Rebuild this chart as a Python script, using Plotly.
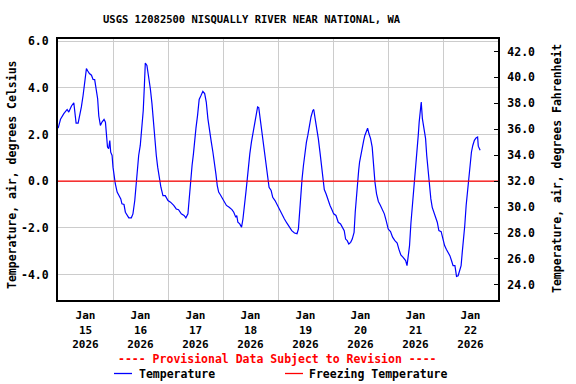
import plotly.graph_objects as go
import pandas as pd

title = "USGS 12082500 NISQUALLY RIVER NEAR NATIONAL, WA"
start = "2026-01-15 00:00"
end = "2026-01-23 00:00"

# hours since Jan 15 00:00 and air temperature (deg C)
hours = [0.07, 1.09, 2.54, 3.99, 4.7, 5.88, 6.9, 7.62, 7.9, 8.79, 9.4, 10.2, 10.96, 11.7, 12.4, 13.0,
         13.7, 14.6, 15.3, 16.0, 16.6, 17.3, 17.8, 18.5, 19.2, 20.1, 20.7, 21.1, 21.6, 22.1, 22.6, 23.0,
         23.6, 24.0, 24.5, 25.0, 25.8, 26.5, 27.4, 27.9, 28.8, 29.4, 30.1, 30.9, 32.0, 32.7, 33.5, 34.1,
         34.6, 35.2, 35.9, 36.7, 37.2, 37.7, 38.1,
         38.8, 39.6, 40.3, 41.0, 41.7, 42.2, 42.9, 43.5, 44.2, 44.9, 45.8, 46.8, 48.0, 49.1, 50.5, 51.6,
         52.6, 53.8, 55.0, 55.8, 56.7, 57.3, 57.9, 58.5, 59.1, 59.6, 60.2, 60.9, 61.6, 62.4, 63.2, 64.0,
         64.7, 65.4, 66.1, 66.9, 67.6, 68.3, 68.9, 69.5, 70.1, 70.9, 71.8, 72.7, 73.5, 74.7, 75.9, 76.7, 77.6,
         78.0, 78.5, 79.3, 80.1, 80.7, 81.4, 82.0, 82.6, 83.1, 83.7, 84.4, 85.2, 85.9, 86.5, 87.1, 87.6,
         88.2, 88.9, 89.5, 90.2, 90.8, 91.5, 92.1, 93.0, 93.7, 94.7, 95.7, 96.6, 97.7, 98.8, 99.9, 101.0,
         102.0, 103.2, 104.3, 104.9, 105.3, 105.9, 106.5, 107.1, 107.7, 108.4, 109.0, 109.7, 110.4, 111.2,
         111.6, 112.2, 112.9, 113.6, 114.4, 115.1, 115.7, 116.2,
         117.0, 118.0, 118.7, 119.4, 120.3, 121.3, 122.3, 123.3, 124.2, 124.9, 125.5, 126.2, 126.9, 127.7,
         128.4, 129.2, 129.7, 130.3, 130.7, 131.2, 131.6, 132.2, 132.8, 133.4, 133.9, 134.5, 135.1, 135.7,
         136.4, 137.1, 137.7, 138.3, 139.0, 139.8, 140.6, 141.5, 142.4, 143.2, 144.1, 145.1, 146.0, 147.0,
         148.0, 148.8, 149.6, 150.6, 151.7, 152.3, 152.8, 153.4,
         154.0, 154.7, 155.3, 155.7, 156.2, 156.7, 157.2, 157.6, 158.0, 158.5, 159.0, 159.8, 160.4, 160.9,
         161.5, 162.1, 162.7, 163.3, 164.0, 164.7, 165.5, 166.2, 167.2, 168.0, 168.7, 169.5, 170.3, 171.0,
         171.7, 172.4, 173.2, 173.9, 174.6, 175.4, 175.9, 176.4, 177.0, 177.5, 178.1, 178.7, 179.3, 179.9,
         180.4, 181.0, 181.7, 182.4, 183.1, 183.4, 184.2]
temp_c = [2.27, 2.65, 2.89, 3.07, 2.96, 3.22, 3.36, 2.82, 2.49, 2.49, 2.75, 3.18, 3.68, 4.39, 4.82, 4.72,
          4.61, 4.54, 4.36, 4.35, 3.89, 3.53, 2.79, 2.39, 2.53, 2.65, 2.53, 2.03, 1.46, 1.39, 1.74, 1.24,
          1.10, 0.60, 0.17, -0.11, -0.47, -0.62, -0.76, -0.97, -1.0, -1.33, -1.44, -1.57, -1.57, -1.40, -0.83, -0.04,
          0.70, 1.10, 1.53, 2.46, 3.03, 4.11, 5.06,
          4.96, 4.46, 3.96, 3.32, 2.39, 1.67, 1.10, 0.60, 0.10, -0.26, -0.62, -0.62, -0.83, -0.90, -1.04, -1.19,
          -1.22, -1.40, -1.47, -1.57, -1.40, -0.62, -0.04, 0.67, 1.17, 1.75, 2.27, 2.82, 3.50, 3.67, 3.85, 3.75,
          3.39, 2.68, 2.10, 1.67, 1.24, 0.82, 0.31, -0.19, -0.47, -0.59, -0.76, -0.90, -1.04, -1.12, -1.22, -1.33, -1.55,
          -1.47, -1.76, -1.83, -1.97, -1.62, -1.12, -0.47, 0.10, 0.74, 1.17, 1.67, 2.10, 2.46, 2.82, 3.18, 3.15,
          2.68, 2.25, 1.82, 1.17, 0.60, 0.24, -0.26, -0.40, -0.69, -0.83, -1.04, -1.19, -1.40, -1.62, -1.80, -1.97,
          -2.12, -2.22, -2.25, -2.05, -1.40, -0.62, 0.10, 0.67, 1.24, 1.67, 1.96, 2.39, 2.75, 3.03,
          3.07, 2.68, 2.32, 1.82, 1.17, 0.60, 0.03, -0.36,
          -0.55, -0.90, -1.04, -1.19, -1.40, -1.47, -1.76, -1.83, -2.02, -2.12, -2.48, -2.55, -2.69, -2.62,
          -2.48, -2.19, -1.33, -0.54, 0.10, 0.46, 0.82, 1.17, 1.53, 1.75, 1.96, 2.17, 2.27, 2.03,
          1.82, 1.46, 0.67, -0.04, -0.54, -0.87, -1.02, -1.19, -1.40, -1.69, -2.05, -2.16, -2.40, -2.55,
          -2.65, -2.93, -3.16, -3.26, -3.40, -3.62, -3.26, -2.76,
          -1.80, -1.04, -0.45, 0.24, 0.82, 1.10, 1.96, 2.53, 3.10, 3.39, 2.68, 2.25, 1.82, 1.10,
          0.39, -0.19, -0.76, -1.12, -1.33, -1.55, -1.76, -2.12, -2.16, -2.48, -2.76, -2.93, -3.05, -3.19,
          -3.40, -3.62, -3.62, -4.08, -4.05, -3.76, -3.62, -3.05, -2.48, -1.90, -1.04, -0.47, 0.24, 0.82,
          1.24, 1.53, 1.75, 1.85, 1.89, 1.50, 1.32]
freezing_c = 0.0

day_labels = ["Jan<br>15<br>2026", "Jan<br>16<br>2026", "Jan<br>17<br>2026", "Jan<br>18<br>2026",
              "Jan<br>19<br>2026", "Jan<br>20<br>2026", "Jan<br>21<br>2026", "Jan<br>22<br>2026"]
c_ticks = [-4, -2, 0, 2, 4, 6]
c_ticktext = ["-4.0", "-2.0", "0.0", "2.0", "4.0", "6.0"]
f_ticks = [24, 26, 28, 30, 32, 34, 36, 38, 40, 42]
f_ticktext = ["24.0", "26.0", "28.0", "30.0", "32.0", "34.0", "36.0", "38.0", "40.0", "42.0"]
c_range = [-5.09, 6.09]

FONT = "DejaVu Sans Mono"
t0 = pd.Timestamp(start)
times = [t0 + pd.Timedelta(hours=h) for h in hours]
noons = [t0 + pd.Timedelta(hours=12 + 24 * i) for i in range(len(day_labels))]
midnights = [t0 + pd.Timedelta(days=i) for i in range(1, len(day_labels))]
temp_f = [c * 9 / 5 + 32 for c in temp_c]

fig = go.Figure()
fig.add_trace(go.Scatter(x=times, y=temp_c, mode="lines", name="Temperature",
                         line=dict(color="#0000ff", width=1.2), showlegend=False))
fig.add_trace(go.Scatter(x=[pd.Timestamp(start), pd.Timestamp(end)], y=[freezing_c, freezing_c],
                         mode="lines", name="Freezing Temperature",
                         line=dict(color="#ff0000", width=1.2), showlegend=False))
fig.add_trace(go.Scatter(x=times, y=temp_f, mode="lines", yaxis="y2", opacity=0,
                         line=dict(width=0), hoverinfo="skip", showlegend=False))

grid = "#cccccc"
fig.update_layout(
    width=576, height=384,
    margin=dict(l=58, r=78, t=39, b=84, autoexpand=False),
    paper_bgcolor="white", plot_bgcolor="white",
    font=dict(family=FONT, size=11.5, color="black", weight="bold"),
    showlegend=False,
    xaxis=dict(type="date", range=[pd.Timestamp(start), pd.Timestamp(end)],
               tickmode="array", tickvals=noons, ticktext=day_labels, ticks="",
               tickfont=dict(size=11), showgrid=False, zeroline=False, ticklabelstandoff=4,
               minor=dict(tickmode="array", tickvals=midnights, showgrid=True,
                          gridcolor=grid, gridwidth=1, ticks=""),
               showline=True, linecolor="black", linewidth=2, mirror=True),
    yaxis=dict(range=c_range, tickmode="array", tickvals=c_ticks, ticktext=c_ticktext,
               showgrid=True, gridcolor=grid, gridwidth=1, zeroline=False, ticks="",
               ticklabelstandoff=5,
               showline=True, linecolor="black", linewidth=2, mirror=True),
    yaxis2=dict(overlaying="y", side="right",
                range=[c_range[0] * 9 / 5 + 32, c_range[1] * 9 / 5 + 32],
                tickmode="array", tickvals=f_ticks, ticktext=f_ticktext,
                ticks="inside", ticklen=4, tickcolor="black", tickwidth=1,
                showgrid=False, zeroline=False, ticklabelstandoff=5,
                showline=True, linecolor="black", linewidth=2),
)

# Title
fig.add_annotation(text=title, xref="paper", yref="paper", x=(252 - 58) / 440, y=1 + 20 / 261,
                   xanchor="center", yanchor="middle", showarrow=False,
                   font=dict(family=FONT, size=10.5, color="black", weight="bold"))
# Axis titles
fig.add_annotation(text="Temperature, air, degrees Celsius", xref="paper", yref="paper",
                   x=(12 - 58) / 440, y=(300 - 175) / 261, textangle=-90,
                   xanchor="center", yanchor="middle", showarrow=False)
fig.add_annotation(text="Temperature, air, degrees Fahrenheit", xref="paper", yref="paper",
                   x=(557 - 58) / 440, y=(300 - 169) / 261, textangle=-90,
                   xanchor="center", yanchor="middle", showarrow=False)
# Provisional note
fig.add_annotation(text="---- Provisional Data Subject to Revision ----", xref="paper", yref="paper",
                   x=(277.5 - 58) / 440, y=(300 - 358.5) / 261, xanchor="center", yanchor="middle",
                   showarrow=False, font=dict(family=FONT, size=11.5, color="#ff0000", weight="bold"))
# Legend (drawn manually)
leg_y = (300 - 373.5) / 261
fig.add_shape(type="line", xref="paper", yref="paper", x0=(114 - 58) / 440, x1=(132 - 58) / 440,
              y0=leg_y, y1=leg_y, line=dict(color="#0000ff", width=1.3))
fig.add_annotation(text="Temperature", xref="paper", yref="paper", x=(137 - 58) / 440, y=leg_y,
                   xanchor="left", yanchor="middle", showarrow=False)
fig.add_shape(type="line", xref="paper", yref="paper", x0=(285 - 58) / 440, x1=(303 - 58) / 440,
              y0=leg_y, y1=leg_y, line=dict(color="#ff0000", width=1.3))
fig.add_annotation(text="Freezing Temperature", xref="paper", yref="paper", x=(307 - 58) / 440, y=leg_y,
                   xanchor="left", yanchor="middle", showarrow=False)

fig.write_html("out.html", config={"displayModeBar": False},
               post_script="document.body.style.margin='0';")
